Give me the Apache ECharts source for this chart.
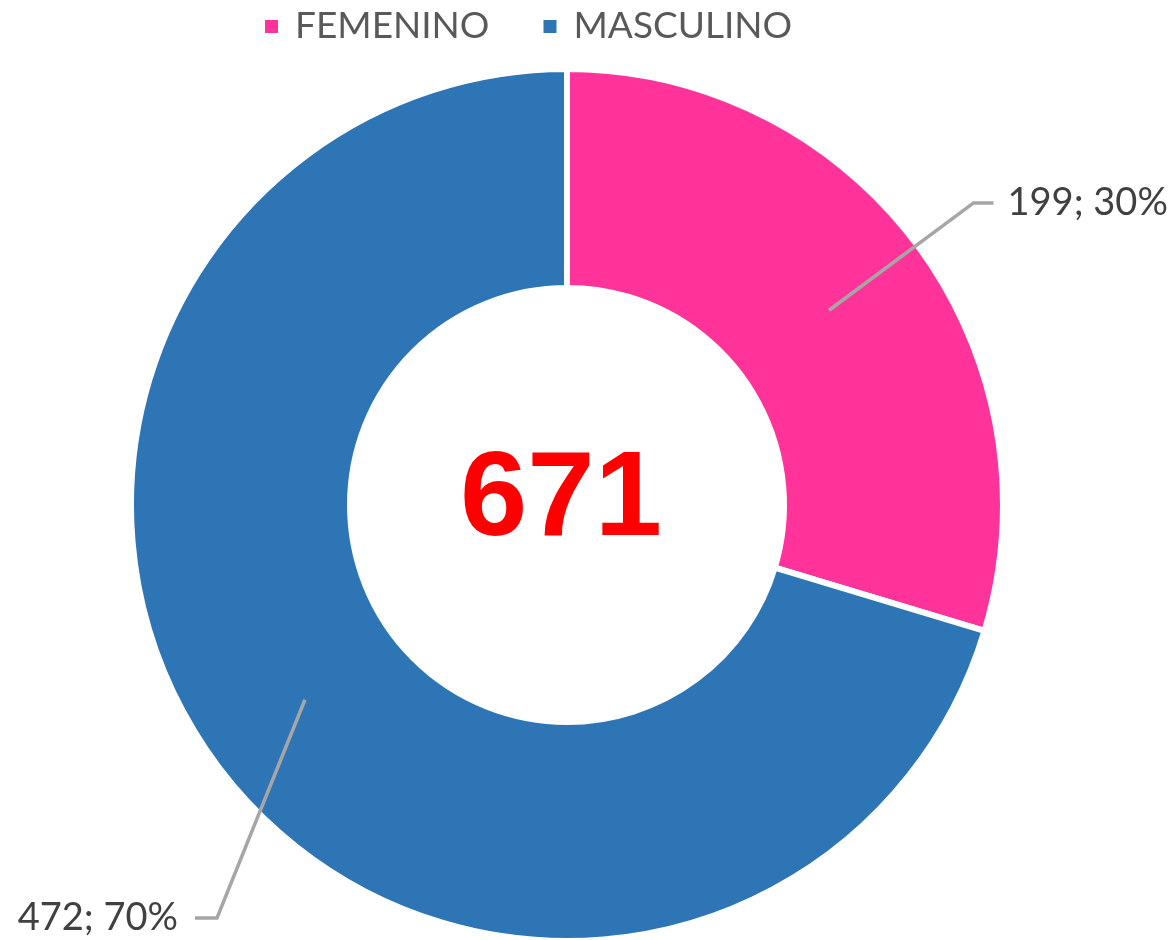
<!DOCTYPE html>
<html>
<head>
<meta charset="utf-8">
<script src="https://cdn.jsdelivr.net/npm/echarts@6/dist/echarts.min.js"></script>
<style>
    html, body { margin: 0; padding: 0; background: #fff; }
    #genderDonut { width: 1176px; height: 940px; }
</style>
</head>
<body>
<div id="genderDonut"></div>
<script>
// datos
const categories = ['FEMENINO', 'MASCULINO']
const counts = [199, 472]
const sliceColors = ['#FF3399', '#2E75B6']

const total = counts.reduce((a, b) => a + b, 0)

// layout
const cx = 567
const cy = 505
const rInner = 217
const rOuter = 436
const rMid = (rInner + rOuter) / 2

const chartDom = document.getElementById('genderDonut')
const myChart = echarts.init(chartDom)

const option = {
    animation: false,
    legend: {
        data: categories,
        left: 258,
        top: 3,
        icon: 'rect',
        itemWidth: 15,
        itemHeight: 15,
        itemGap: 52,
        textStyle: {
            fontFamily: 'Lato',
            fontSize: 37,
            color: '#595959',
            padding: [0, 0, 0, 11],
        },
    },
    graphic: [
        {
            type: 'text',
            x: 561,
            y: 502,
            z: 10,
            style: {
                text: String(total),
                fill: '#FF0000',
                fontFamily: 'Liberation Sans',
                fontWeight: 'bold',
                fontSize: 121,
                align: 'center',
                verticalAlign: 'middle',
            },
        },
    ],
    series: [
        {
            // anillo
            type: 'pie',
            center: [cx, cy],
            radius: [rInner, rOuter],
            startAngle: 90,
            clockwise: true,
            z: 2,
            emphasis: { scale: false },
            itemStyle: {
                borderColor: '#fff',
                borderWidth: 6,
            },
            label: { show: false },
            labelLine: { show: false },
            data: categories.map((name, i) => ({
                name: name,
                value: counts[i],
                itemStyle: { color: sliceColors[i] },
            })),
        },
        {
            // capa transparente solo para etiquetas (la linea nace a mitad del anillo)
            type: 'pie',
            center: [cx, cy],
            radius: [0, rMid],
            startAngle: 90,
            clockwise: true,
            z: 5,
            silent: true,
            legendHoverLink: false,
            avoidLabelOverlap: false,
            percentPrecision: 0,
            emphasis: { disabled: true },
            itemStyle: { color: 'rgba(0,0,0,0)', borderWidth: 0 },
            label: {
                show: true,
                position: 'outside',
                formatter: '{c}; {d}%',
                fontFamily: 'Lato',
                fontSize: 38,
                color: '#404040',
                distanceToLabelLine: 14,
            },
            labelLine: {
                show: true,
                length: 180,
                length2: 20,
                smooth: false,
                lineStyle: { color: '#A6A6A6', width: 3.5 },
            },
            labelLayout: function (p) {
                const pts = p.labelLinePoints
                if (!pts || p.dataIndex !== 1) return {}
                return {
                    x: 178,
                    y: 918,
                    align: 'right',
                    verticalAlign: 'middle',
                    labelLinePoints: [pts[0], [217, 918], [195, 918]],
                }
            },
            data: categories.map((name, i) => ({
                name: name,
                value: counts[i],
            })),
        },
    ],
}

myChart.setOption(option)
window.addEventListener('resize', myChart.resize)
</script>
</body>
</html>
